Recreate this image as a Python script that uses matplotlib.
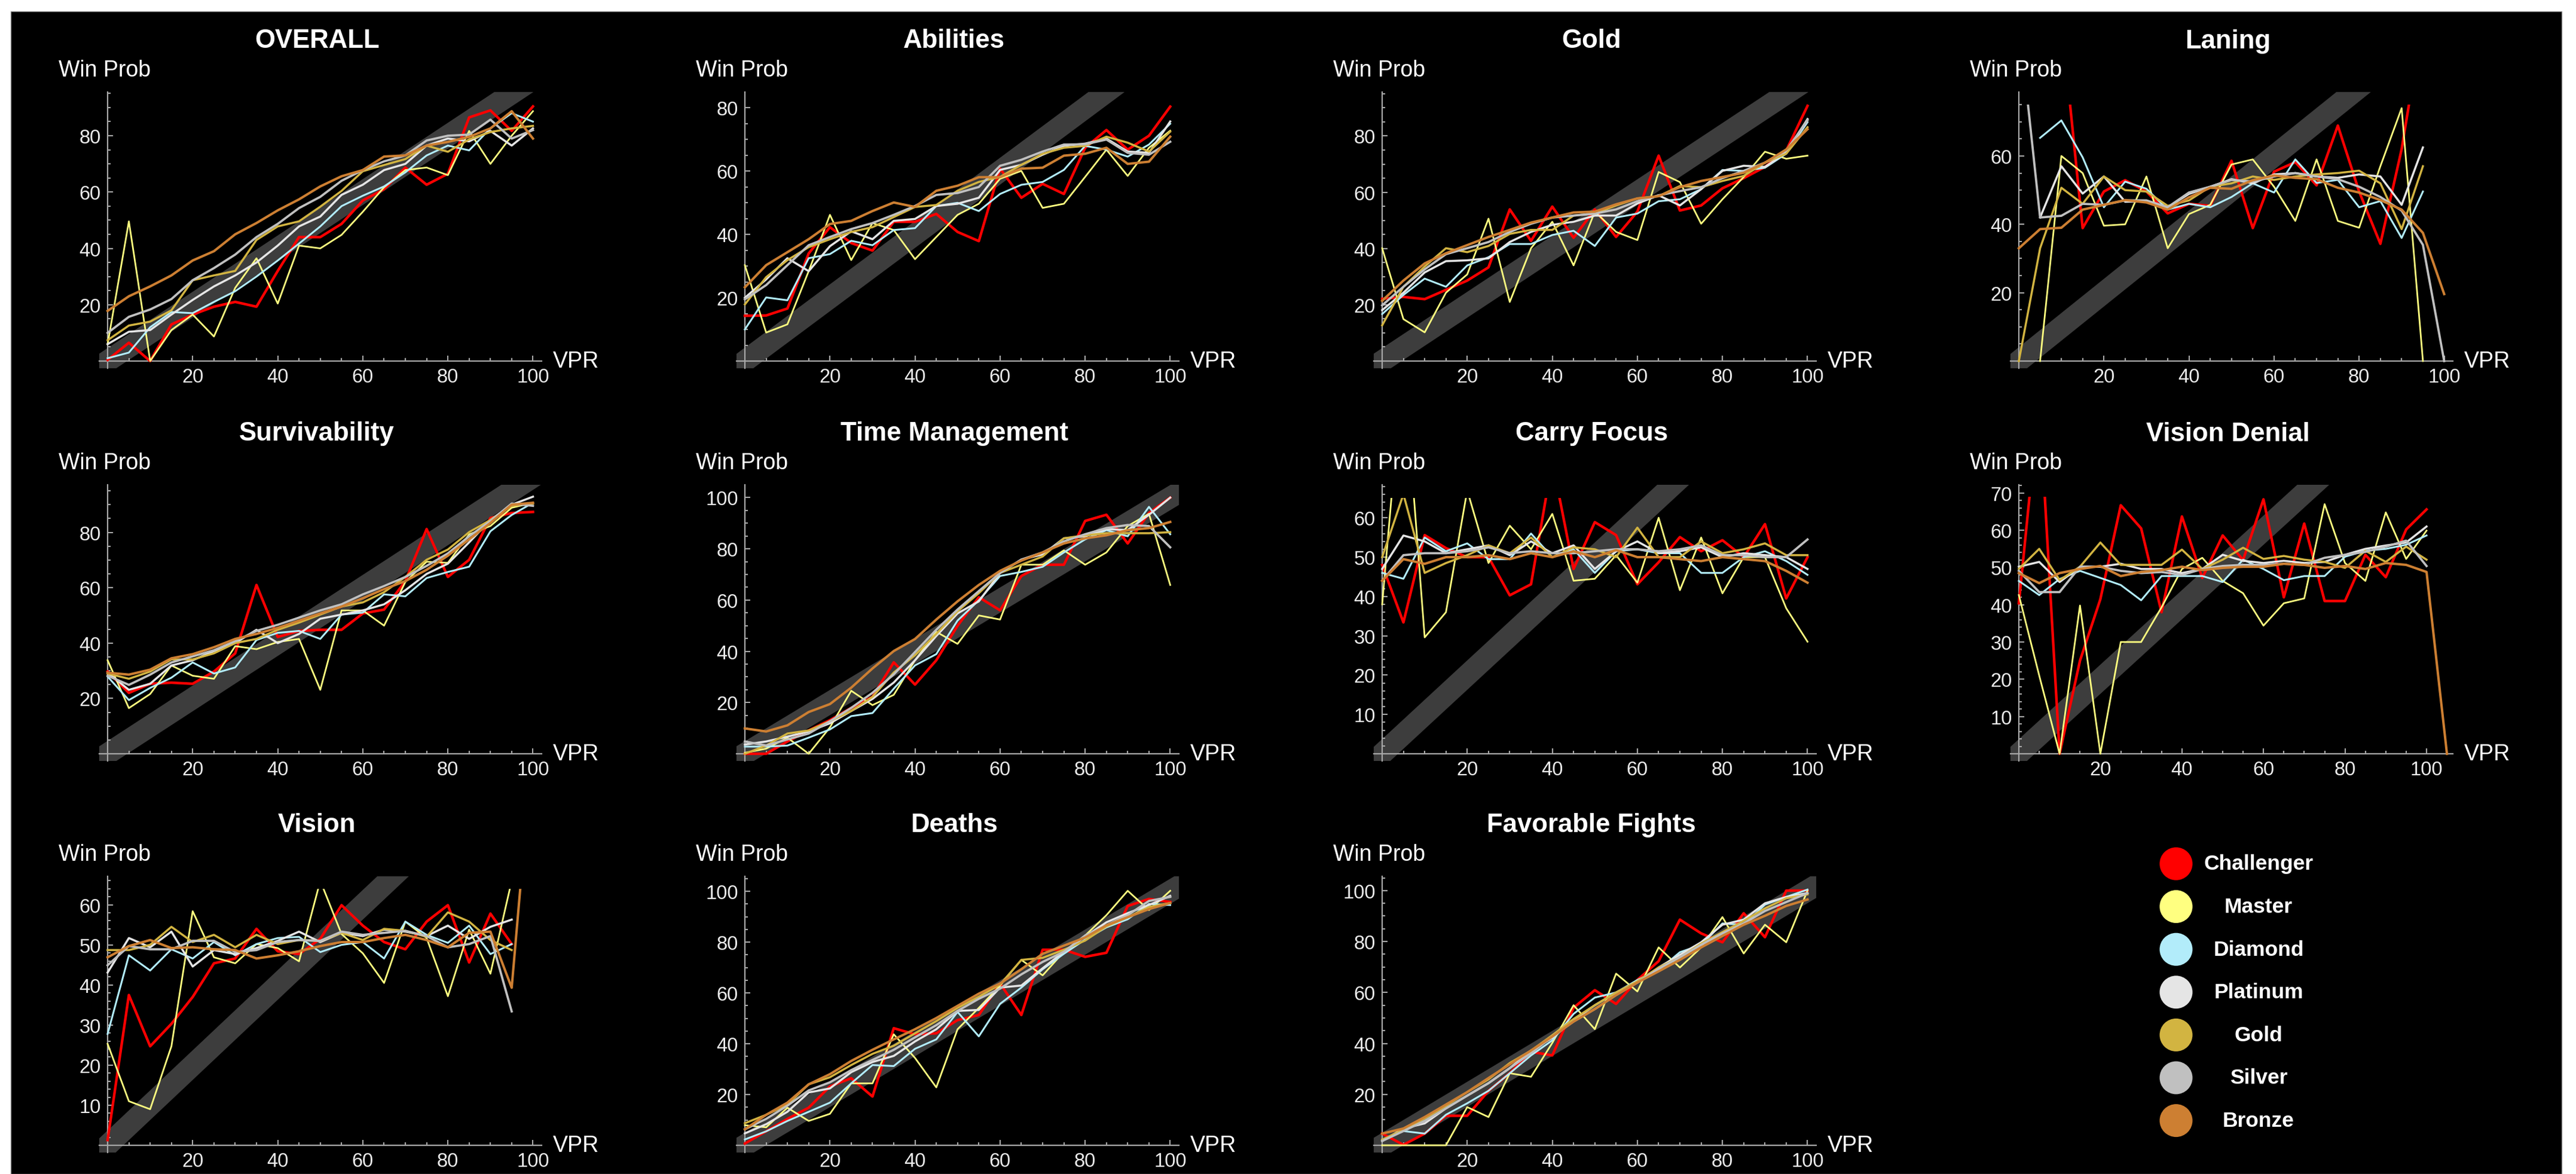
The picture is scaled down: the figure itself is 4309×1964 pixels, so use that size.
import numpy as np
import matplotlib
matplotlib.use("Agg")
import matplotlib.pyplot as plt
from matplotlib.patches import Rectangle, Ellipse
import matplotlib.transforms as mtransforms

plt.rcParams['font.family'] = ['Liberation Sans', 'DejaVu Sans']

nan = float('nan')

W, H, DPI = 4309, 1965, 100

TIERS = ["Challenger", "Master", "Diamond", "Platinum", "Gold", "Silver", "Bronze"]
TIER_COLORS = ["#FF0000", "#FFFF80", "#B2ECFA", "#E5E5E5", "#D2B441", "#C0C0C0", "#CD7F32"]
TIER_LW = [3.1, 2.0, 2.2, 2.5, 2.5, 2.7, 2.9]

VPR = [0, 5, 10, 15, 20, 25, 30, 35, 40, 45, 50, 55, 60, 65, 70, 75, 80, 85, 90, 95, 100]
VPR_DENIAL = [0, 5, 10, 15, 20, 25, 30, 35, 40, 45, 50, 55, 60, 65, 70, 75, 80, 85, 90, 95, 100, 105]
VPR_VISION = [0, 5, 10, 15, 20, 25, 30, 35, 40, 45, 50, 55, 60, 65, 70, 75, 80, 85, 90, 95, 97.5]

X_MAJOR = [20, 40, 60, 80, 100]

OVERALL = {
    "Challenger": [0.4, 6.5, 0, 13, 16.5, 19.3, 21, 19.3, 32, 44, 44, 48.7, 57, 61, 68.7, 62.6, 66.5, 86.5, 89, 81.7, 90.4],
    "Master": [6, 49.6, 0, 11, 16.5, 8.7, 26, 36.5, 20.4, 41, 40, 44.8, 53, 61.7, 67.8, 68.7, 66, 81.7, 70, 80, 88.7],
    "Diamond": [1, 3, 12, 17.4, 17, 21, 24.8, 30, 35.7, 41.7, 47.8, 55, 58.7, 62, 67, 73, 76.5, 74.8, 82.6, 88, 85],
    "Platinum": [6, 10.4, 11, 16.5, 21.7, 26.5, 30.4, 35, 41, 47.8, 51.3, 59, 62.6, 67.8, 70, 76.5, 79, 78, 81.7, 76.5, 82.6],
    "Gold": [7.4, 12.6, 14, 18, 28.7, 30.4, 32, 43, 47.8, 49.6, 54.8, 60.4, 67.4, 69.6, 71.7, 76.5, 74.3, 78.7, 81.3, 82.6, 83.5],
    "Silver": [10, 15.7, 18.3, 22, 28.7, 33, 37.8, 44, 48.7, 54.3, 58.3, 64, 67.8, 70.9, 73, 78.3, 80, 80.4, 85.7, 79, 82],
    "Bronze": [17.8, 23, 26.5, 30.4, 35.7, 39, 45, 49, 53.5, 57.4, 62, 65.6, 67.8, 72.6, 73, 76.5, 77.8, 79.6, 82.6, 88.7, 79],
}

ABILITIES = {
    "Challenger": [14.3, 14.4, 16.6, 34, 42.3, 37.3, 34.9, 44, 44, 46.5, 40.8, 37.9, 60.8, 51.6, 56, 52.8, 67.4, 73, 66.8, 71.2, 80.4],
    "Master": [30.3, 9, 11.6, 28.4, 46.2, 31.9, 43.6, 41.4, 32.2, 39.2, 46.2, 49.7, 57.6, 60.1, 48.4, 49.7, 58.2, 66.8, 58.5, 67.4, 72.8],
    "Diamond": [10, 20.1, 19.2, 32.5, 33.8, 38, 36.6, 41.4, 42, 49, 50, 47.4, 52.8, 55.7, 56.6, 60.4, 68, 66.8, 64.6, 68.4, 75],
    "Platinum": [20, 25.8, 32.5, 28.4, 36.3, 41, 38.5, 44.3, 44.9, 49, 49.7, 51.6, 60.4, 62, 65.2, 68, 68.7, 70.3, 66.2, 65.8, 75.7],
    "Gold": [17.9, 26.5, 31.9, 36, 38.5, 40.8, 42.3, 45.5, 48.7, 49.3, 53.8, 56.6, 58.2, 62, 65.5, 67.4, 68, 70.9, 69, 66.2, 72.5],
    "Silver": [19.5, 24, 30.3, 36.6, 39.2, 41.7, 43.6, 46.2, 49, 52.5, 53.1, 55, 61.7, 63.6, 66.2, 68.4, 68.5, 70, 65.8, 65.2, 69.3],
    "Bronze": [23.3, 30.3, 34.4, 38.5, 43.3, 44.3, 47.4, 50.1, 48.7, 53.8, 55.4, 58.1, 58.1, 60.8, 61.1, 64.9, 65.5, 67.4, 62.3, 63, 70.9],
}

GOLD_METRIC = {
    "Challenger": [22.1, 22.8, 22, 25.3, 28.6, 33.3, 53.9, 42.7, 54.9, 43.8, 53.9, 44.1, 53.1, 73, 53.5, 55.3, 61.4, 65, 69, 74.8, 90.7],
    "Master": [40.1, 14.9, 10.2, 24.3, 30.8, 50.6, 21, 40.1, 49.5, 34, 53.1, 45.9, 43, 67.2, 63.6, 48.8, 57.5, 65.4, 74.4, 71.9, 73],
    "Diamond": [16.7, 23.5, 29.3, 26.4, 34, 36.9, 41.6, 41.6, 44.8, 46.3, 40.9, 51, 52.4, 56.8, 57.5, 61.1, 67.9, 67.6, 68.7, 73.7, 84.9],
    "Platinum": [18.1, 24.3, 31.5, 35.5, 35.8, 36.5, 42.3, 45.9, 48.4, 49.5, 51.7, 51.7, 56, 58.9, 55.3, 61.1, 67.6, 69.4, 69, 74.1, 86],
    "Gold": [12.7, 26.4, 33.6, 40.1, 38.7, 40.9, 45.2, 46.6, 46.6, 51.7, 52.4, 55.3, 57.8, 58.6, 62.2, 61.8, 64, 65.8, 70.5, 73.7, 83.1],
    "Silver": [19.8, 26.4, 32.6, 38, 40.1, 42.3, 45.9, 48.8, 51, 51.7, 52.4, 53.9, 56.8, 58.9, 60.4, 61.8, 65, 67.6, 70.5, 74.8, 85.6],
    "Bronze": [21.4, 28.6, 34.7, 38.3, 41.2, 44.1, 46.6, 49.2, 51, 52.8, 53.1, 55.7, 57.8, 58.6, 61.8, 64, 65.4, 66.9, 70.5, 75.2, 82.4],
}

LANING = {
    "Challenger": [nan, nan, 100, 38.9, 49.6, 52.9, 49.6, 43.2, 46, 45.4, 58.6, 38.9, 55.4, 58.2, 51.4, 68.9, 49.6, 34.3, 62, 100, nan],
    "Master": [nan, 0, 60, 55, 39.6, 40, 54, 33, 43, 45.7, 57.5, 59, 51, 41, 59, 41, 39, 57, 74, 0, nan],
    "Diamond": [nan, 65.3, 70.4, 59.6, 45, 52.5, 50.4, 44.3, 46, 45, 48, 52, 49.3, 59, 52.1, 53, 45, 46.8, 36, 49.6, nan],
    "Platinum": [nan, 42, 57, 49, 54, 46.6, 46.8, 45, 48.9, 51, 53.2, 52, 54.6, 55, 54, 53.6, 54.6, 54, 45.7, 62.5, nan],
    "Gold": [0, 33, 50.7, 46, 54, 50, 49.6, 45.4, 47, 51, 52, 54, 53, 54, 54.6, 55, 55.7, 52, 38.6, 57, nan],
    "Silver": [100, 42, 42.5, 46, 45.7, 47, 47, 45, 49.3, 51, 53, 52.5, 54, 55, 54, 53.2, 51, 48, 44, 34, 0],
    "Bronze": [33, 38.6, 39, 44.3, 45.7, 47.1, 46.4, 44.3, 47.9, 50.7, 50.4, 52.9, 54.3, 53.6, 53.2, 50.7, 49.3, 47.1, 44.3, 37.5, 19.6],
}

SURVIVABILITY = {
    "Challenger": [29.7, 22, 25.3, 25.7, 25.3, 29.7, 36.3, 61, 42.2, 44.4, 44.8, 44.8, 50.7, 52.1, 62.4, 81.2, 63.9, 70.1, 85.2, 87, 87.4],
    "Master": [33.8, 16.5, 21.6, 31.9, 28.2, 27.1, 38.9, 37.8, 40.4, 41.5, 23.1, 51.8, 51.8, 46.3, 62.1, 69.4, 69, 79.3, 82.3, 88.9, 90.7],
    "Diamond": [27.9, 19.4, 23.8, 27.5, 33, 29, 31.2, 41.1, 43.7, 44.4, 41.5, 50.3, 51, 57.6, 56.9, 63.5, 65.7, 67.6, 80.4, 86.3, 90.7],
    "Platinum": [29.3, 23.1, 25.3, 31.9, 33.8, 37.1, 40, 44.8, 40, 43.3, 48.8, 50.3, 51.8, 54, 59.1, 65, 68.7, 76.4, 84.5, 90, 92.9],
    "Gold": [29, 27.1, 29.7, 34.1, 34.1, 36.3, 40, 41.5, 44.8, 47.4, 50.3, 53.2, 54.7, 58.4, 63.9, 70.1, 73.8, 80.1, 84.5, 89.6, 90.4],
    "Silver": [28.2, 24.9, 28.6, 33, 35.2, 37.4, 40.7, 44.4, 46.6, 49.2, 51.8, 54, 57.6, 60.6, 63.9, 67.9, 72.4, 78.6, 84.1, 90.4, 89.6],
    "Bronze": [29.3, 28.6, 30.4, 34.5, 36, 38.5, 41.5, 43.3, 45.5, 48.1, 50.7, 53.2, 56.2, 59.5, 62.4, 66.5, 71.6, 77.5, 83.4, 90, 90.7],
}

TIME_MANAGEMENT = {
    "Challenger": [0, 0, 4.8, 9.1, 13.1, 17.9, 22.2, 35.7, 27, 36.5, 50, 61.1, 56, 69.4, 73.8, 73.8, 90.9, 93.3, 82.1, 94, 100],
    "Master": [0.4, 2, 6.3, 0, 10.3, 24.6, 19, 23, 36.5, 47.6, 42.9, 54, 52.4, 73.8, 73.8, 79.4, 73.8, 78.6, 88.9, 93.7, 65.9],
    "Diamond": [2.8, 2.8, 3.2, 6.3, 9.5, 14.7, 15.9, 25.4, 34.5, 38.9, 52, 59.9, 69.4, 71, 73, 78.6, 83.7, 87.3, 84.9, 96.4, 85.7],
    "Platinum": [3.6, 4.8, 6.7, 8.7, 11.9, 16.7, 21.4, 27.8, 36.5, 46, 54.8, 59.5, 70.6, 75.8, 77.8, 84.1, 84.9, 87.7, 87.3, 93.3, 100],
    "Gold": [0, 3.2, 7.9, 9.1, 12.7, 16.7, 22.2, 31.7, 38.5, 46.8, 55.6, 62.7, 70.6, 73.8, 77, 84.1, 85.3, 86.1, 86.1, 86.1, 86.5],
    "Silver": [4.8, 3.2, 5.6, 7.9, 12.7, 17.9, 23.8, 31, 39.7, 48.4, 56.3, 63.5, 70.6, 75.8, 78.6, 82.9, 85.7, 88.1, 89.3, 88.9, 80.6],
    "Bronze": [9.9, 8.7, 11.1, 16.3, 19.4, 25.8, 33.3, 40.1, 44.8, 52.4, 59.5, 65.9, 71.4, 75.4, 78.6, 82.1, 84.1, 85.3, 87.3, 88.1, 90.5],
}

CARRY_FOCUS = {
    "Challenger": [48, 33.4, 55.6, 52.3, 50, 50, 40.3, 43.1, 74.4, 47, 58.9, 55.6, 43.1, 48.7, 55.1, 51.5, 54.3, 50, 58.4, 39.5, 50],
    "Master": [38, 100, 29.6, 36, 67, 48.5, 58, 52, 61, 44, 44.5, 50.5, 43.5, 60, 41.6, 55, 40.8, 50, 50, 37, 28.5],
    "Diamond": [46, 44.5, 55, 51.5, 53.5, 49.5, 49.5, 56, 50, 52, 46, 51.5, 52, 51, 51, 46, 46, 50, 51.5, 49, 45.5],
    "Platinum": [47, 55.5, 54, 51, 52, 53, 50.5, 54, 51, 53, 47, 51.5, 54, 51, 51.5, 52.5, 50, 51, 50.5, 50, 47],
    "Gold": [50, 66, 46, 48.5, 50.5, 53, 51, 55, 50, 52.5, 52, 50, 57.5, 50, 50, 54, 51, 52, 53.5, 50.5, 50.5],
    "Silver": [44, 50.5, 51, 51, 51.5, 52.5, 51, 51.5, 51, 51, 51.5, 52, 52, 51.5, 52, 53, 50.5, 50.5, 50, 50, 54.5],
    "Bronze": [44, 49.5, 48.3, 50, 50, 50.5, 49.5, 51, 50, 51.5, 50, 51.8, 50, 50, 49.5, 49, 50, 49.5, 49, 46.5, 43.5],
}

VISION_DENIAL = {
    "Challenger": [40.4, 95, 0, 25, 41.5, 66.7, 60.5, 38, 63.7, 47.2, 58.6, 52, 68.3, 42, 61.8, 41, 41, 53.4, 47.4, 60.2, 65.6, nan],
    "Master": [42.6, 21, 0, 39.8, 0, 30, 30, 39.3, 49.6, 52.6, 46.4, 43.1, 34.4, 40.4, 41.7, 67, 51.2, 46.4, 64.8, 52.3, 59.9, nan],
    "Diamond": [46.4, 42.6, 46.9, 49.1, 47.2, 45.3, 41.2, 47.7, 47.7, 47.7, 46.1, 52.1, 49.6, 46.6, 47.7, 47.7, 52.9, 54.5, 55, 56.1, 58.6, nan],
    "Platinum": [50.2, 51.5, 46.1, 50.2, 50.2, 51, 49.6, 49.6, 48.5, 49.6, 53.4, 51.8, 51.2, 51.8, 51.2, 51.5, 53.4, 55, 55.9, 56.7, 61, nan],
    "Gold": [49.6, 55, 46.6, 50.2, 56.7, 50.7, 50.7, 50.7, 54.8, 49.6, 52.1, 55.3, 52.3, 53.1, 52.1, 51.5, 49.9, 54.5, 51.5, 55.6, 52.1, nan],
    "Silver": [49.1, 43.4, 43.4, 50.2, 50.2, 49.1, 48.5, 48.8, 48, 49.6, 50.4, 50.7, 50.7, 51, 50.7, 52.6, 53.4, 54.2, 55.6, 57.2, 50.4, nan],
    "Bronze": [48.5, 45.8, 48.5, 49.6, 50.4, 47.7, 48.8, 49.3, 50.2, 49.3, 49.9, 50.2, 50.2, 51, 50.7, 49.9, 50.4, 49.6, 51.2, 50.7, 48.8, 0],
}

VISION = {
    "Challenger": [1.3, 37.5, 24.7, 30.3, 37, 45.4, 46.6, 54, 48.4, 47.7, 51.5, 59.9, 54.8, 50.7, 48.9, 55.8, 59.9, 45.6, 57.8, 50.2, nan],
    "Master": [25.3, 11, 9, 24.7, 58.4, 46.9, 45.4, 50.2, 49.2, 45.9, 66, 52.7, 47.9, 40.5, 55.8, 51.7, 37.2, 53.8, 42.8, 66, nan],
    "Diamond": [27.8, 47.4, 43.6, 48.9, 46.6, 50.7, 47.4, 50.2, 51.7, 52, 48.2, 50, 50.7, 46.6, 55.8, 52.5, 50.5, 54.8, 47.7, 50.2, nan],
    "Platinum": [43.1, 51.7, 49.4, 53.3, 44.6, 48.7, 47.7, 49.2, 51, 53.3, 50.7, 53, 52.2, 53.8, 53.3, 52.2, 54.8, 51.5, 54.5, 56.3, nan],
    "Gold": [48.7, 48.7, 50, 54.5, 50.7, 52.5, 49.4, 52.5, 50.2, 51.2, 51, 53, 51.2, 54, 53.5, 52, 58.1, 55.8, 51.2, 48.7, nan],
    "Silver": [44.9, 49.7, 48.9, 48.9, 51, 51, 48.2, 48.7, 50.7, 51.2, 51, 53.3, 52.5, 53, 53.5, 52.2, 49.4, 50.2, 52.2, 33.4, nan],
    "Bronze": [46.9, 49.7, 51.2, 49.2, 49.4, 48.9, 48.7, 46.6, 47.4, 48.4, 49.7, 50.7, 50.7, 51.7, 52.5, 51.2, 49.4, 53, 53.3, 39.3, 70],
}

DEATHS = {
    "Challenger": [0.7, 5.5, 10.4, 14.8, 23.2, 26.4, 19.2, 46.1, 43.7, 44.1, 49.3, 51.3, 63.7, 51.3, 77, 77, 74.2, 75.8, 94.2, 97, 95.8],
    "Master": [7.9, 7.1, 14.8, 9.6, 12.4, 24.4, 24.4, 43.7, 34.4, 22.8, 45.7, 54.1, 62.9, 73, 66.9, 76.2, 82.6, 90.6, 100.2, 92.6, 100.2],
    "Diamond": [2.3, 5.5, 9.6, 13.2, 16.8, 24.4, 31.6, 31.2, 38, 41.7, 52.5, 42.9, 55.7, 62.1, 69.3, 75.4, 81, 85.8, 89, 95, 94.6],
    "Platinum": [4.7, 8.3, 13.2, 20.8, 22.4, 28.8, 32.8, 35.2, 40.9, 45.7, 52.9, 53.3, 62.1, 62.9, 69.7, 76.2, 82.2, 87.8, 91.4, 94.6, 98.2],
    "Gold": [8.7, 12, 16, 24, 26.8, 31.6, 36, 39.2, 44.1, 48.9, 54.1, 58.5, 63.3, 73, 73.8, 77, 80.6, 86.2, 89.8, 93.8, 95.4],
    "Silver": [6.3, 10.4, 15.6, 21.6, 24.8, 29.6, 33.6, 37.6, 42.5, 47.3, 52.9, 57.7, 61.7, 67.3, 72.2, 76.2, 82.6, 86.6, 90.6, 96.2, 97.8],
    "Bronze": [6.3, 12, 16.8, 24, 28, 33.2, 37.6, 41.7, 45.7, 50.1, 54.9, 59.7, 63.7, 69.3, 75.4, 78.6, 81.8, 86.6, 89.8, 93, 95.4],
}

FAVORABLE_FIGHTS = {
    "Challenger": [4.6, 0.2, 4.6, 11.6, 11.6, 21.4, 28.3, 36.7, 35.3, 54, 60.9, 55.5, 64.9, 72.3, 88.6, 83.2, 79.7, 91.1, 81.7, 100, 100],
    "Master": [0, 0, 0, 0, 15, 11.1, 28.3, 26.9, 40.2, 55, 45.6, 67.4, 60.4, 77.7, 69.8, 77.7, 89.6, 75.3, 86.6, 79.7, 100],
    "Diamond": [2.2, 5.6, 4.6, 12, 16.5, 21.4, 28.3, 35.3, 41.2, 51.6, 58, 60, 64.9, 68.8, 75.8, 78.7, 87.1, 86.6, 94.5, 97.5, 100.4],
    "Platinum": [1.7, 6.6, 8.6, 14.5, 19.5, 24.4, 30.3, 37.2, 42.2, 49.1, 55, 60, 63.9, 69.8, 74.8, 79.7, 86.6, 88.6, 95, 97.5, 99],
    "Gold": [2.2, 6.1, 10.6, 15.5, 20.9, 25.9, 32.3, 37.2, 43.2, 49.6, 55, 60, 64.4, 69.8, 73.8, 79.2, 83.7, 88.1, 93, 97, 98.5],
    "Silver": [1.7, 5.6, 9.6, 14.5, 19.5, 24.4, 30.3, 36.2, 42.7, 48.6, 53.5, 59, 63.9, 69.3, 73.8, 78.7, 83.2, 87.1, 92, 95.5, 99],
    "Bronze": [4.6, 6.6, 11.1, 16, 20.9, 26.4, 31.8, 37.2, 42.7, 48.6, 53.5, 59, 63.9, 68.3, 72.8, 77.7, 82.2, 86.6, 90.1, 94, 96.5],
}

# (title, x values, data, col, row, y top, clip top, y major ticks, y minor step, x scale px/unit)
PANELS = [
    ("OVERALL", VPR, OVERALL, 0, 0, 95.5, 95.5, [20, 40, 60, 80], 5, 7.115),
    ("Abilities", VPR, ABILITIES, 1, 0, 85.0, 85.0, [20, 40, 60, 80], 5, 7.115),
    ("Gold", VPR, GOLD_METRIC, 2, 0, 95.6, 95.6, [20, 40, 60, 80], 5, 7.115),
    ("Laning", VPR, LANING, 3, 0, 78.7, 75.0, [20, 40, 60], 5, 7.115),
    ("Survivability", VPR, SURVIVABILITY, 0, 1, 97.2, 97.2, [20, 40, 60, 80], 5, 7.115),
    ("Time Management", VPR, TIME_MANAGEMENT, 1, 1, 105.0, 105.0, [20, 40, 60, 80, 100], 5, 7.115),
    ("Carry Focus", VPR, CARRY_FOCUS, 2, 1, 68.4, 65.0, [10, 20, 30, 40, 50, 60], 2, 7.115),
    ("Vision Denial", VPR_DENIAL, VISION_DENIAL, 3, 1, 72.2, 69.0, [10, 20, 30, 40, 50, 60, 70], 2, 6.82),
    ("Vision", VPR_VISION, VISION, 0, 2, 67.1, 64.0, [10, 20, 30, 40, 50, 60], 2, 7.115),
    ("Deaths", VPR, DEATHS, 1, 2, 105.9, 105.9, [20, 40, 60, 80, 100], 5, 7.115),
    ("Favorable Fights", VPR, FAVORABLE_FIGHTS, 2, 2, 105.6, 105.6, [20, 40, 60, 80, 100], 5, 7.115),
]

COL_X = [180, 1246, 2312, 3377]
ROW_Y = [605, 1262, 1917]
PLOT_H = 450
PAD_B = 12
PAD_L = 14
PLOT_W = 740

AXIS_COLOR = "#a8a8a8"
LABEL_COLOR = "#ececec"
BAND_COLOR = "#3d3d3d"

fig = plt.figure(figsize=(W / DPI, H / DPI), dpi=DPI, facecolor="white")
fig.add_artist(Rectangle((18 / W, 0), (4285 - 18) / W, (H - 20) / H,
                         transform=fig.transFigure, facecolor="black",
                         edgecolor="#8a8a8a", linewidth=1.0, zorder=0))

for title, xs, data, c, r, top, clip_top, ymaj, ystep, xscale in PANELS:
    left = (COL_X[c] - PAD_L) / W
    bottom = (H - (ROW_Y[r] + PAD_B)) / H
    ax = fig.add_axes([left, bottom, PLOT_W / W, (PLOT_H + PAD_B) / H])
    ax.set_facecolor("none")
    x0 = -PAD_L / xscale
    x1 = x0 + PLOT_W / xscale
    y0 = -top * PAD_B / PLOT_H
    ax.set_xlim(x0, x1)
    ax.set_ylim(y0, top)

    # diagonal reference band
    ax.plot([-20, 250], [-20, 250], color=BAND_COLOR, lw=26, solid_capstyle="butt", zorder=1)

    clip = Rectangle((x0, y0), x1 - x0, clip_top - y0, transform=ax.transData)
    for tier, color, lw in zip(TIERS, TIER_COLORS, TIER_LW):
        ln, = ax.plot(xs, data[tier], color=color, lw=lw, zorder=3)
        ln.set_clip_path(clip)

    for s in ["top", "right"]:
        ax.spines[s].set_visible(False)
    for s in ["left", "bottom"]:
        ax.spines[s].set_position(("data", 0))
        ax.spines[s].set_color(AXIS_COLOR)
        ax.spines[s].set_linewidth(1.6)
        ax.spines[s].set_zorder(2)

    xmax_tick = max(v for v in xs)
    ax.set_xticks(X_MAJOR)
    ax.set_xticks([v for v in range(5, int(xmax_tick) + 1, 5) if v not in X_MAJOR], minor=True)
    ax.set_yticks(ymaj)
    ax.set_yticks([v for v in np.arange(ystep, top, ystep) if round(v, 3) not in ymaj], minor=True)
    ax.tick_params(which="major", direction="in", length=6.5, width=1.5, color=AXIS_COLOR,
                   labelcolor=LABEL_COLOR, labelsize=23.5, pad=8)
    ax.tick_params(which="minor", direction="in", length=3.6, width=1.5, color=AXIS_COLOR)

    blend = mtransforms.blended_transform_factory(ax.transData, ax.transAxes)
    ax.text(-0.7, 1 + 37 / (PLOT_H + PAD_B), "Win Prob", transform=blend, ha="center", va="center",
            fontsize=27, color="white")
    ax.text(0.492, 1 + 86 / (PLOT_H + PAD_B), title, transform=ax.transAxes, ha="center", va="center",
            fontsize=31.5, fontweight="bold", color="white")
    blend2 = mtransforms.blended_transform_factory(ax.transAxes, ax.transData)
    ax.annotate("VPR", xy=(1, 0), xycoords=blend2, xytext=(13.5, 0), textcoords="offset points",
                ha="left", va="center", fontsize=27, color="white")

# legend
lax = fig.add_axes([0, 0, 1, 1])
lax.set_xlim(0, W)
lax.set_ylim(H, 0)
lax.axis("off")
lax.patch.set_visible(False)
for i, (tier, color) in enumerate(zip(TIERS, TIER_COLORS)):
    y = 1446 + i * 71.6
    lax.add_patch(Ellipse((3640, y), 55, 55, facecolor=color, edgecolor="none"))
    lax.text(3778, y, tier, ha="center", va="center", fontsize=25.5, fontweight="bold", color="white")

fig.savefig("out.png", dpi=DPI, facecolor="white")
